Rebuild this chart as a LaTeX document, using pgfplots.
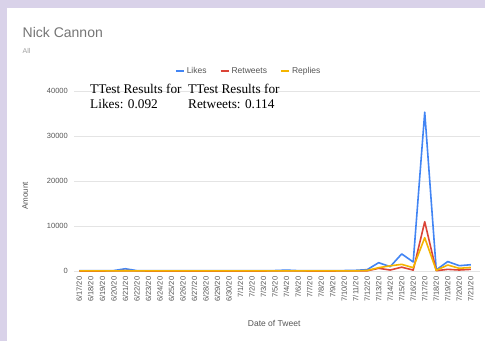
\documentclass[border=0pt]{standalone}
\usepackage{fontspec}
\setmainfont{Liberation Sans}
\newfontfamily\seriff{Liberation Serif}
\usepackage{pgfplots}
\usepackage{pgfplotstable}
\pgfplotsset{compat=1.18}
\definecolor{lav}{HTML}{D9D2E9}
\definecolor{gblue}{HTML}{4285F4}
\definecolor{gred}{HTML}{DB4437}
\definecolor{gyellow}{HTML}{F4B400}
\definecolor{gtitle}{HTML}{757575}
\definecolor{gsub}{HTML}{A0A0A0}
\definecolor{glabel}{HTML}{555555}
\definecolor{ggrid}{HTML}{E4E4E4}

\pgfplotstableread{
idx likes retweets replies
0  50   10  20
1  50   10  20
2  50   10  20
3  100  20  30
4  500  60  60
5  80   20  30
6  50   10  20
7  50   10  20
8  50   10  20
9  60   10  20
10 50   10  20
11 60   10  20
12 50   10  20
13 50   10  20
14 50   10  20
15 50   10  20
16 60   10  20
17 100  20  30
18 200  30  40
19 80   20  30
20 50   10  20
21 50   10  20
22 60   10  20
23 100  20  30
24 150  30  40
25 300  50  120
26 1850 600 740
27 960  220 1150
28 3800 850 1480
29 2000 200 740
30 35300 10950 7400
31 250  70  150
32 2100 370 1330
33 1180 220 600
34 1400 370 800
}\datatable

\begin{document}
\begin{tikzpicture}
\path[use as bounding box] (0pt,0pt) rectangle (485pt,-341pt);
\fill[lav] (0pt,0pt) rectangle (485pt,-341pt);
\fill[white] (7pt,-8pt) rectangle (485pt,-341pt);

\node[anchor=base west, inner sep=0pt, text=gtitle, font=\fontsize{14}{16}\selectfont] at (22.5pt,-37.3pt) {Nick Cannon};
\node[anchor=base west, inner sep=0pt, text=gsub, font=\fontsize{7}{8}\selectfont] at (22.5pt,-53pt) {All};

\begin{axis}[
  at={(74pt,-271pt)}, anchor=south west,
  scale only axis, width=406pt, height=180pt,
  xmin=-0.46, xmax=34.8, ymin=0, ymax=40000,
  clip=false,
  axis x line*=bottom, axis y line*=left,
  axis line style={draw=none},
  major tick length=0pt,
  ymajorgrids, grid style={ggrid, line width=0.8pt},
  ytick={0,10000,20000,30000,40000},
  scaled y ticks=false,
  /pgf/number format/1000 sep={},
  /pgf/number format/assume math mode=true,
  yticklabel style={font=\fontsize{7.5}{9}\selectfont, text=glabel, inner sep=0pt},
  yticklabel shift=6pt,
  xtick={0,...,34},
  xticklabels={6/17/20,6/18/20,6/19/20,6/20/20,6/21/20,6/22/20,6/23/20,6/24/20,6/25/20,6/26/20,6/27/20,6/28/20,6/29/20,6/30/20,7/1/20,7/2/20,7/3/20,7/5/20,7/4/20,7/6/20,7/7/20,7/8/20,7/9/20,7/10/20,7/11/20,7/12/20,7/13/20,7/14/20,7/15/20,7/16/20,7/17/20,7/18/20,7/19/20,7/20/20,7/21/20},
  xticklabel style={rotate=90, anchor=east, font=\fontsize{7.5}{8}\selectfont, text=glabel, inner sep=0pt},
  xticklabel shift=5.5pt,
  xlabel={Date of Tweet},
  xlabel style={at={(axis description cs:0.493,-0.294)}, anchor=center, font=\fontsize{8.5}{9}\selectfont, text=glabel},
  ylabel={Amount},
  ylabel style={at={(axis description cs:-0.12,0.417)}, anchor=center, rotate=0, font=\fontsize{8}{9}\selectfont, text=glabel},
  legend columns=3,
  legend style={at={(axis description cs:0.43,1.111)}, anchor=center, draw=none, fill=none,
    font=\fontsize{8.5}{9}\selectfont, text=glabel, inner sep=0pt,
    /tikz/every even column/.append style={column sep=11pt}},
  legend image code/.code={\draw[#1, line width=2pt] (0pt,0pt) -- (8pt,0pt);},
]
\addplot[gblue, line width=1.6pt, line join=round] table[x=idx, y=likes] {\datatable};
\addlegendentry{Likes}
\addplot[gred, line width=1.6pt, line join=round] table[x=idx, y=retweets] {\datatable};
\addlegendentry{Retweets}
\addplot[gyellow, line width=1.6pt, line join=round] table[x=idx, y=replies] {\datatable};
\addlegendentry{Replies}
\end{axis}

\node[anchor=base west, inner sep=0pt, align=left, font=\seriff\fontsize{13.3}{15}\selectfont] at (90pt,-108pt) {TTest Results for\\Likes: 0.092};
\node[anchor=base west, inner sep=0pt, align=left, font=\seriff\fontsize{13.3}{15}\selectfont] at (188pt,-108pt) {TTest Results for\\Retweets: 0.114};
\end{tikzpicture}
\end{document}
